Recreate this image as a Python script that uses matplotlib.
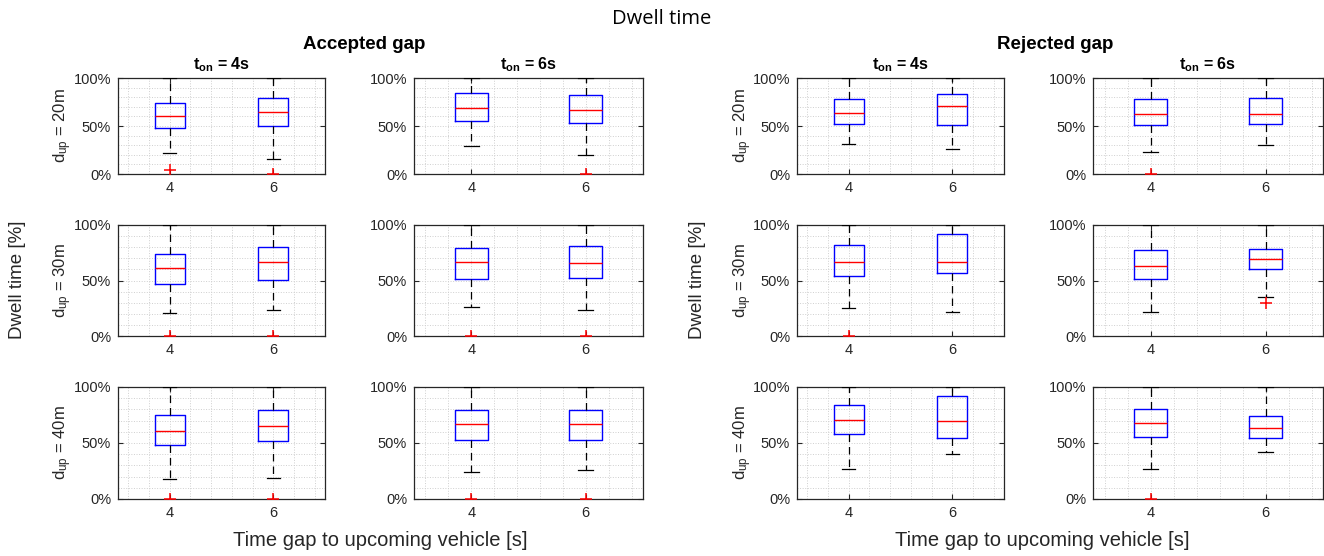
import matplotlib
matplotlib.use("Agg")
import matplotlib.pyplot as plt
from matplotlib.ticker import FixedLocator, FuncFormatter

plt.rcParams['font.family'] = ['Liberation Sans', 'DejaVu Sans']
plt.rcParams['mathtext.fontset'] = 'custom'
plt.rcParams['mathtext.rm'] = 'Liberation Sans'
plt.rcParams['mathtext.bf'] = 'Liberation Sans:bold'
plt.rcParams['mathtext.it'] = 'Liberation Sans:italic'

# ---- data (percent) ----
groups = ["Accepted gap", "Rejected gap"]
t_on_labels = ["4s", "6s"]
d_up_labels = ["20m", "30m", "40m"]
time_gaps = [4, 6]

# indexed [row d_up][col t_on][time gap]
acc_q1 = [[[47.7, 49.8], [55.1, 53.3]],
          [[46.5, 50.8], [51.8, 52.4]],
          [[48.1, 52.2], [52.4, 52.4]]]
acc_med = [[[60.6, 64.8], [69.0, 66.6]],
           [[61.3, 66.7], [66.5, 66.2]],
           [[61.1, 65.0], [66.6, 66.6]]]
acc_q3 = [[[73.9, 78.7], [84.3, 82.6]],
          [[73.6, 79.9], [79.6, 81.1]],
          [[75.1, 79.8], [79.6, 79.6]]]
acc_wlo = [[[21.6, 15.3], [29.3, 19.9]],
           [[20.4, 23.7], [25.7, 23.0]],
           [[17.8, 18.7], [24.3, 25.7]]]
acc_whi = [[[100, 100], [100, 100]],
           [[100, 100], [100, 100]],
           [[100, 100], [100, 100]]]
acc_fliers = [[[[4.2], [0.0]], [[], [0.0]]],
              [[[0.0], [0.0]], [[0.0], [0.0]]],
              [[[0.0], [0.0]], [[0.0], [0.0]]]]

rej_q1 = [[[51.6, 50.9], [50.9, 52.6]],
          [[54.1, 56.6], [51.1, 60.4]],
          [[57.6, 54.9], [55.2, 54.9]]]
rej_med = [[[63.1, 70.4], [62.0, 62.4]],
           [[66.7, 66.7], [63.1, 69.4]],
           [[70.9, 70.0], [67.7, 63.8]]]
rej_q3 = [[[78.4, 83.6], [77.7, 78.7]],
          [[82.3, 92.2], [77.5, 78.7]],
          [[84.3, 92.3], [80.4, 74.5]]]
rej_wlo = [[[31.0, 26.5], [23.3, 30.7]],
           [[24.9, 21.6], [21.3, 35.3]],
           [[26.4, 40.0], [26.4, 42.4]]]
rej_whi = [[[100, 100], [100, 100]],
           [[100, 100], [100, 100]],
           [[100, 100], [100, 100]]]
rej_fliers = [[[[], []], [[0.0], []]],
              [[[0.0], []], [[], [30.0]]],
              [[[], []], [[0.0], []]]]

group_data = [
    (acc_q1, acc_med, acc_q3, acc_wlo, acc_whi, acc_fliers),
    (rej_q1, rej_med, rej_q3, rej_wlo, rej_whi, rej_fliers),
]

# ---- layout (pixels) ----
W, H = 1324, 556
col_px = [(118, 325), (414, 643), (797, 1004), (1093, 1323)]
row_px = [(78, 174), (225, 336), (387, 499)]

fig = plt.figure(figsize=(W / 100, H / 100), dpi=100)

TXT = '#262626'
grid_kw = dict(color='#cfcfcf', linestyle=':', linewidth=0.7)

for g, (q1s, meds, q3s, wlos, whis, fls) in enumerate(group_data):
    for r in range(3):
        for c in range(2):
            x0, x1 = col_px[g * 2 + c]
            y0, y1 = row_px[r]
            ax = fig.add_axes([x0 / W, 1 - y1 / H, (x1 - x0) / W, (y1 - y0) / H])
            stats = []
            for k in range(2):
                stats.append(dict(q1=q1s[r][c][k], med=meds[r][c][k], q3=q3s[r][c][k],
                                  whislo=wlos[r][c][k], whishi=whis[r][c][k],
                                  fliers=fls[r][c][k]))
            ax.bxp(stats, positions=time_gaps, widths=0.58, capwidths=0.26,
                   boxprops=dict(color='#0000ff', linewidth=1.0),
                   medianprops=dict(color='#ff0000', linewidth=1.0),
                   whiskerprops=dict(color='black', linestyle=(0, (6, 4)), linewidth=0.9),
                   capprops=dict(color='black', linewidth=0.9),
                   flierprops=dict(marker='+', markeredgecolor='#ff0000', markersize=8,
                                   markeredgewidth=1.1, linestyle='none'),
                   showfliers=True, zorder=3)
            ax.set_xlim(3, 7)
            ax.set_ylim(0, 100)
            ax.set_xticks(time_gaps)
            ax.set_xticklabels([str(t) for t in time_gaps])
            ax.set_yticks([0, 50, 100])
            ax.yaxis.set_major_formatter(FuncFormatter(lambda v, p: f"{int(v)}%"))
            ax.xaxis.set_minor_locator(FixedLocator([3.2, 3.6, 4.4, 4.8, 5.2, 5.6, 6.4, 6.8]))
            ax.yaxis.set_minor_locator(FixedLocator([10, 20, 30, 40, 60, 70, 80, 90]))
            ax.grid(True, which='both', **grid_kw)
            ax.set_axisbelow(True)
            ax.tick_params(which='major', direction='in', length=3.5, width=0.8,
                           top=True, right=True, labelsize=10.5, colors=TXT, labelcolor=TXT, pad=5)
            ax.tick_params(which='minor', length=0)
            for s in ax.spines.values():
                s.set_color(TXT)
                s.set_linewidth(0.9)
            if r == 0:
                ax.set_title(r"t$_{\mathbf{on}}$ = " + t_on_labels[c],
                             fontsize=11.5, fontweight='bold', color='black', pad=6)
            if c == 0:
                cx = (x0 - 55) / W if g == 0 else (x0 - 54) / W
                fig.text(cx, 1 - ((y0 + y1) / 2) / H,
                         r"d$_{\mathregular{up}}$ = " + d_up_labels[r],
                         rotation=90, ha='center', va='center', fontsize=12, color=TXT)

# group / overall labels
fig.text(662 / W, 1 - 19 / H, "Dwell time", ha='center', va='center', fontsize=14.5,
         family=['Open Sans', 'DejaVu Sans'], color='black')
fig.text(364 / W, 1 - 45 / H, groups[0], ha='center', va='center', fontsize=13.5,
         fontweight='bold', color='black')
fig.text(1055 / W, 1 - 45 / H, groups[1], ha='center', va='center', fontsize=13.5,
         fontweight='bold', color='black')
for xl in (18, 697):
    fig.text(xl / W, 1 - 280 / H, "Dwell time [%]", rotation=90, ha='center', va='center',
             fontsize=13.5, color=TXT)
for xc in (380, 1042):
    fig.text(xc / W, 1 - 541 / H, "Time gap to upcoming vehicle [s]", ha='center',
             va='center', fontsize=14.5, color=TXT)

fig.savefig("out.png", dpi=100)
